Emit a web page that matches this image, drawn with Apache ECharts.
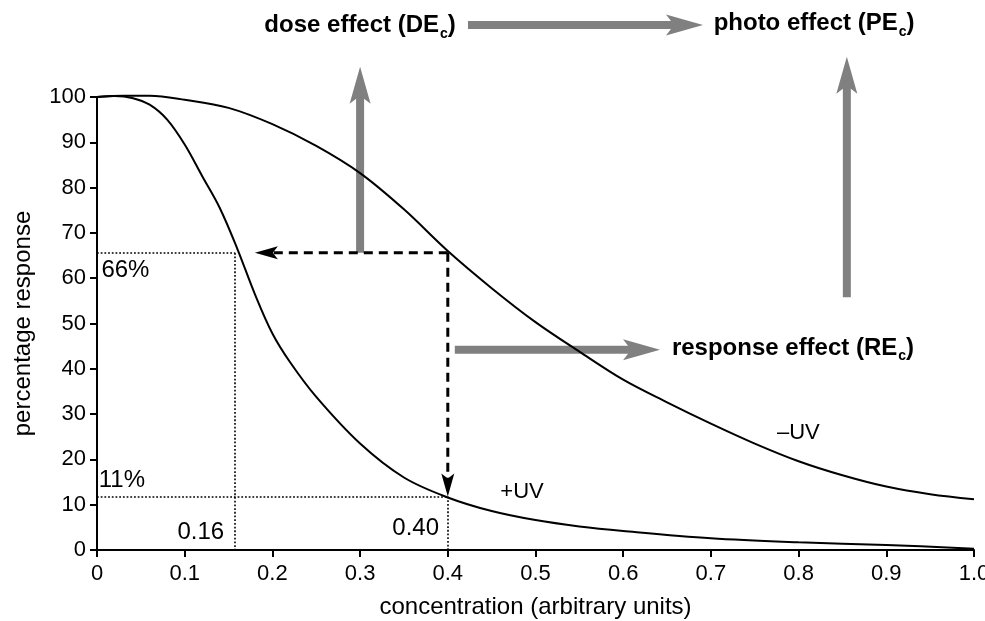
<!DOCTYPE html>
<html>
<head>
<meta charset="utf-8">
<script src="https://cdn.jsdelivr.net/npm/echarts@6/dist/echarts.min.js"></script>
<style>html,body{margin:0;padding:0;background:#fff;}#c{width:985px;height:621px;}</style>
</head>
<body>
<div id="c"></div>
<script>
// ---- data ----
const xMinusUV = [0, 0.03, 0.06, 0.1, 0.15, 0.2, 0.25, 0.3, 0.35, 0.4, 0.45, 0.5, 0.55, 0.6, 0.65, 0.7, 0.75, 0.8, 0.85, 0.9, 0.95, 1.0];
const yMinusUV = [100, 100.3, 100.3, 99.4, 97.6, 94, 89.2, 83.2, 75.2, 66, 57.8, 50.3, 43.8, 37.6, 32.6, 27.9, 23.5, 19.6, 16.5, 14.0, 12.3, 11.2];
const xPlusUV = [0, 0.02, 0.04, 0.06, 0.08, 0.1, 0.12, 0.14, 0.16, 0.18, 0.2, 0.22, 0.25, 0.3, 0.35, 0.4, 0.45, 0.5, 0.55, 0.6, 0.7, 0.8, 0.9, 1.0];
const yPlusUV = [100, 100.2, 99.8, 98.3, 95, 89.5, 82.5, 75.5, 66.5, 56.5, 47.8, 41.5, 33.8, 23.5, 16, 11.6, 8.6, 6.6, 5.2, 4.2, 2.6, 1.7, 1.1, 0.3];
const xTickLabels = ['0', '0.1', '0.2', '0.3', '0.4', '0.5', '0.6', '0.7', '0.8', '0.9', '1.0'];
const yTickLabels = ['0', '10', '20', '30', '40', '50', '60', '70', '80', '90', '100'];

// reference lines (data coordinates: x1, y1, x2, y2)
const dottedLines = [
  [0, 65.6, 0.157, 65.6],
  [0.157, 65.6, 0.157, 0],
  [0, 11.8, 0.40, 11.8],
  [0.40, 11.8, 0.40, 0]
];
const dashedArrows = [
  [0.40, 65.6, 0.180, 65.6],
  [0.40, 65.6, 0.40, 11.8]
];
const grayArrows = [
  [0.423, 115.9, 0.691, 115.9],
  [0.30, 65.6, 0.30, 106.7],
  [0.855, 55.8, 0.855, 108.9],
  [0.408, 44.2, 0.642, 44.2]
];
// bold labels: anchor = top-centre of text block (data coords)
const boldLabelPos = [[0.30, 118.4], [0.8176, 118.8], [0.7936, 47.2]];
const boldLabelMain = ['dose effect (DE', 'photo effect (PE', 'response effect (RE'];
const boldLabelSub = ['c', 'c', 'c'];
const plainLabelPos = [[0.7997, 25.8], [0.4846, 12.8], [0.005, 61.7], [0.002, 15.45], [0.145, 3.97], [0.39, 4.7]];
const plainLabelText = ['\u2013UV', '+UV', '66%', '11%', '0.16', '0.40'];
const plainLabelAlign = ['center', 'center', 'left', 'left', 'right', 'right'];
const plainLabelSize = [22, 22, 24, 24, 24, 24];

const FONT = "'Liberation Sans', Arial, sans-serif";
const chart = echarts.init(document.getElementById('c'), null, {renderer: 'canvas'});
const pairs = (xs, ys) => xs.map((x, i) => [x, ys[i]]);

function arrowRenderer(headLen, headHalfW, notch, lineW, color, dash) {
  return function (params, api) {
    const a = api.coord([api.value(0), api.value(1)]);
    const b = api.coord([api.value(2), api.value(3)]);
    const dx = b[0] - a[0], dy = b[1] - a[1];
    const L = Math.hypot(dx, dy);
    const ux = dx / L, uy = dy / L, nx = -uy, ny = ux;
    const bx = b[0] - ux * headLen, by = b[1] - uy * headLen;
    const ntx = b[0] - ux * (headLen - notch), nty = b[1] - uy * (headLen - notch);
    const se = [b[0] - ux * (headLen - notch - 1), b[1] - uy * (headLen - notch - 1)];
    return {
      type: 'group',
      children: [
        {type: 'line', shape: {x1: a[0], y1: a[1], x2: se[0], y2: se[1]},
          style: {stroke: color, lineWidth: lineW, lineDash: dash || null, fill: null}},
        {type: 'polygon', shape: {points: [
          [b[0], b[1]], [bx + nx * headHalfW, by + ny * headHalfW], [ntx, nty], [bx - nx * headHalfW, by - ny * headHalfW]
        ]}, style: {fill: color, stroke: null}}
      ]
    };
  };
}

const option = {
  backgroundColor: '#fff',
  animation: false,
  grid: {left: 97, right: 11, top: 97, bottom: 71, containLabel: false, outerBoundsMode: 'none'},
  xAxis: {
    type: 'value', min: 0, max: 1, interval: 0.1,
    name: 'concentration (arbitrary units)', nameLocation: 'middle', nameGap: 45,
    nameTextStyle: {fontFamily: FONT, fontSize: 24, color: '#000'},
    axisLine: {lineStyle: {color: '#000', width: 2}},
    axisTick: {show: true, length: 7, lineStyle: {color: '#000', width: 2}},
    axisLabel: {fontFamily: FONT, fontSize: 22, color: '#000', margin: 13,
      formatter: (v) => xTickLabels[Math.round(v * 10)]},
    splitLine: {show: false}
  },
  yAxis: {
    type: 'value', min: 0, max: 100, interval: 10,
    name: 'percentage response', nameLocation: 'middle', nameGap: 62,
    nameTextStyle: {fontFamily: FONT, fontSize: 24, color: '#000'},
    axisLine: {show: true, lineStyle: {color: '#000', width: 2}},
    axisTick: {show: true, length: 7, lineStyle: {color: '#000', width: 2}},
    axisLabel: {fontFamily: FONT, fontSize: 22, color: '#000', margin: 11,
      formatter: (v) => yTickLabels[Math.round(v / 10)]},
    splitLine: {show: false}
  },
  series: [
    {type: 'line', name: '-UV', data: pairs(xMinusUV, yMinusUV), smooth: 0.35,
      showSymbol: false, clip: false, lineStyle: {color: '#000', width: 2}, z: 5},
    {type: 'line', name: '+UV', data: pairs(xPlusUV, yPlusUV), smooth: 0.35,
      showSymbol: false, clip: false, lineStyle: {color: '#000', width: 2}, z: 5},
    {type: 'lines', coordinateSystem: 'cartesian2d', clip: false, z: 3,
      data: dottedLines.map(c => ({coords: [[c[0], c[1]], [c[2], c[3]]]})), symbol: ['none', 'none'],
      lineStyle: {color: '#000', width: 1.6, type: [1.8, 1.9], opacity: 1}},
    {type: 'custom', clip: false, z: 4, data: dashedArrows,
      renderItem: arrowRenderer(23, 6.5, 5, 3, '#000', [9, 6])},
    {type: 'custom', clip: false, z: 2, data: grayArrows,
      renderItem: arrowRenderer(37, 10.5, 8, 8, '#808080', null)},
    {type: 'custom', clip: false, z: 6, data: boldLabelPos,
      renderItem: function (params, api) {
        const p = api.coord([api.value(0), api.value(1)]);
        const i = params.dataIndex;
        return {type: 'text', x: p[0], y: p[1], style: {
          text: '{b|' + boldLabelMain[i] + '}{s|' + boldLabelSub[i] + '}{b|)}',
          align: 'center', verticalAlign: 'top',
          rich: {
            b: {fontFamily: FONT, fontWeight: 'bold', fontSize: 24, fill: '#000', lineHeight: 24, verticalAlign: 'top'},
            s: {fontFamily: FONT, fontWeight: 'bold', fontSize: 14, fill: '#000', lineHeight: 15, verticalAlign: 'top', padding: [13, 0, 0, 1]}
          }
        }};
      }},
    {type: 'custom', clip: false, z: 6, data: plainLabelPos,
      renderItem: function (params, api) {
        const p = api.coord([api.value(0), api.value(1)]);
        const i = params.dataIndex;
        return {type: 'text', x: p[0], y: p[1], style: {
          text: plainLabelText[i], align: plainLabelAlign[i], verticalAlign: 'middle',
          fontFamily: FONT, fontSize: plainLabelSize[i], fill: '#000'
        }};
      }}
  ]
};
chart.setOption(option);
</script>
</body>
</html>
